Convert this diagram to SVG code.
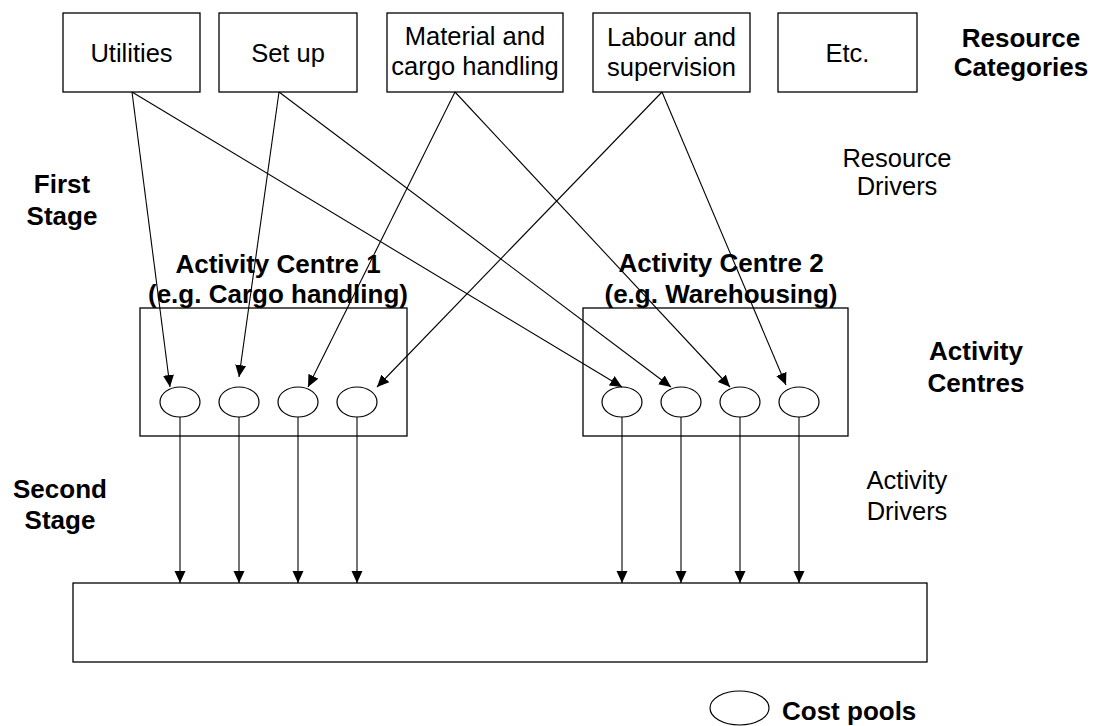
<svg xmlns="http://www.w3.org/2000/svg" width="1095" height="726" viewBox="0 0 1095 726">
  <style>
    .box { fill: #fff; stroke: #000; stroke-width: 1.3; }
    .pool { fill: #fff; stroke: #000; stroke-width: 1.2; }
    .lbl { font-family: "Liberation Sans", Arial, sans-serif; font-size: 25.5px; fill: #000; text-anchor: middle; }
    .bold { font-weight: bold; font-size: 26px; }
    .wire { stroke: #000; stroke-width: 1.1; fill: none; marker-end: url(#head); }
  </style>
  <defs>
    <marker id="head" viewBox="0 0 12 12" refX="12" refY="6" markerWidth="12" markerHeight="12" markerUnits="userSpaceOnUse" orient="auto">
      <path d="M0,0.5 L12,6 L0,11.5 Z" fill="#000"/>
    </marker>
  </defs>
  <rect width="1095" height="726" fill="#fff"/>

  <!-- resource categories -->
  <g id="utilities">
    <rect class="box" x="63" y="13" width="137" height="79"/>
    <text class="lbl" x="131.5" y="62">Utilities</text>
  </g>
  <g id="setup">
    <rect class="box" x="219" y="13" width="138" height="79"/>
    <text class="lbl" x="288" y="62">Set up</text>
  </g>
  <g id="material">
    <rect class="box" x="387" y="13" width="176" height="79"/>
    <text class="lbl" x="475" y="45">Material and</text>
    <text class="lbl" x="475" y="75">cargo handling</text>
  </g>
  <g id="labour">
    <rect class="box" x="593" y="13" width="157" height="79"/>
    <text class="lbl" x="671.5" y="46">Labour and</text>
    <text class="lbl" x="671.5" y="76">supervision</text>
  </g>
  <g id="etc">
    <rect class="box" x="778" y="13" width="139" height="79"/>
    <text class="lbl" x="847.5" y="62">Etc.</text>
  </g>

  <!-- side labels -->
  <g id="resource-categories-label">
    <text class="lbl bold" x="1021" y="47">Resource</text>
    <text class="lbl bold" x="1021" y="76">Categories</text>
  </g>
  <g id="resource-drivers-label">
    <text class="lbl" x="897" y="167">Resource</text>
    <text class="lbl" x="897" y="195">Drivers</text>
  </g>
  <g id="first-stage-label">
    <text class="lbl bold" x="62" y="193">First</text>
    <text class="lbl bold" x="62" y="225">Stage</text>
  </g>
  <g id="activity-centres-label">
    <text class="lbl bold" x="976" y="360">Activity</text>
    <text class="lbl bold" x="976" y="392">Centres</text>
  </g>
  <g id="second-stage-label">
    <text class="lbl bold" x="60" y="498">Second</text>
    <text class="lbl bold" x="60" y="529">Stage</text>
  </g>
  <g id="activity-drivers-label">
    <text class="lbl" x="907" y="489">Activity</text>
    <text class="lbl" x="907" y="520">Drivers</text>
  </g>

  <!-- activity centre 1 -->
  <g id="activity-centre-1">
    <rect class="box" x="140" y="308" width="267" height="128"/>
    <text class="lbl bold" x="278" y="273">Activity Centre 1</text>
    <text class="lbl bold" x="278" y="303">(e.g. Cargo handling)</text>
    <ellipse class="pool" cx="180" cy="402" rx="20" ry="15"/>
    <ellipse class="pool" cx="239" cy="402" rx="20" ry="15"/>
    <ellipse class="pool" cx="298" cy="402" rx="20" ry="15"/>
    <ellipse class="pool" cx="357" cy="402" rx="20" ry="15"/>
  </g>

  <!-- activity centre 2 -->
  <g id="activity-centre-2">
    <rect class="box" x="583" y="308" width="265" height="128"/>
    <text class="lbl bold" x="721" y="272">Activity Centre 2</text>
    <text class="lbl bold" x="721" y="303">(e.g. Warehousing)</text>
    <ellipse class="pool" cx="622" cy="402" rx="20" ry="15"/>
    <ellipse class="pool" cx="681" cy="402" rx="20" ry="15"/>
    <ellipse class="pool" cx="740" cy="402" rx="20" ry="15"/>
    <ellipse class="pool" cx="799" cy="402" rx="20" ry="15"/>
  </g>

  <!-- cost objects -->
  <g id="cost-objects">
    <rect class="box" x="73" y="583" width="854" height="79"/>
  </g>

  <!-- legend -->
  <g id="legend">
    <ellipse class="pool" cx="739.5" cy="708" rx="29.5" ry="17"/>
    <text class="lbl bold" x="782" y="720" text-anchor="start" style="text-anchor:start">Cost pools</text>
  </g>

  <!-- connectors -->
  <g id="connectors">
    <!-- resource drivers -->
    <line class="wire" x1="132" y1="92" x2="170" y2="387"/>
    <line class="wire" x1="132" y1="92" x2="622" y2="387"/>
    <line class="wire" x1="279" y1="92" x2="239" y2="377"/>
    <line class="wire" x1="279" y1="92" x2="671" y2="387"/>
    <line class="wire" x1="455" y1="92" x2="308" y2="387"/>
    <line class="wire" x1="455" y1="92" x2="730" y2="387"/>
    <line class="wire" x1="662" y1="92" x2="377" y2="387"/>
    <line class="wire" x1="662" y1="92" x2="786" y2="385"/>
    <!-- activity drivers -->
    <line class="wire" x1="180" y1="417" x2="180" y2="583"/>
    <line class="wire" x1="239" y1="417" x2="239" y2="583"/>
    <line class="wire" x1="298" y1="417" x2="298" y2="583"/>
    <line class="wire" x1="357" y1="417" x2="357" y2="583"/>
    <line class="wire" x1="622" y1="417" x2="622" y2="583"/>
    <line class="wire" x1="681" y1="417" x2="681" y2="583"/>
    <line class="wire" x1="740" y1="417" x2="740" y2="583"/>
    <line class="wire" x1="799" y1="417" x2="799" y2="583"/>
  </g>
</svg>
